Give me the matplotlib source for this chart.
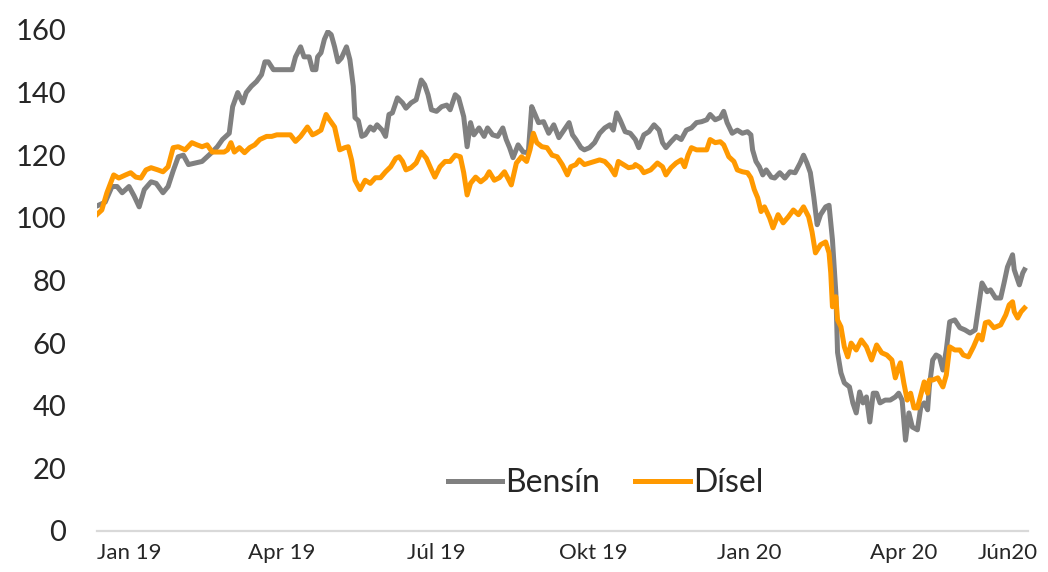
import matplotlib
matplotlib.use("Agg")
import matplotlib.pyplot as plt
import pandas as pd

# Days since 2019-01-01 and index values
bensin_days = [-18, -14, -10, -7, -4, 0, 3, 6, 9, 13, 16, 20, 23, 26, 29, 32, 35, 39, 43, 46, 49, 52, 55, 58,
               59, 61, 64, 67, 69, 72, 75, 78, 80, 82, 85, 89, 93, 96, 98, 101, 103, 106, 108, 110, 111, 113,
               115, 117, 119, 121, 123, 125, 128, 130, 132, 133, 135, 137, 139, 142, 144, 146, 149, 151, 153,
               155, 158, 161, 163, 166, 169, 172, 174, 176, 178, 181, 184, 187, 189, 192, 194, 197, 199, 201,
               203, 206, 209, 211, 214, 217, 220, 222, 224, 226, 229, 232, 235, 237, 239, 241, 244, 247, 250,
               253, 256, 259, 261, 263, 266, 268, 271, 274, 277, 280, 283, 285, 287, 289, 292, 295, 298, 300,
               303, 306, 309, 312, 314, 316, 319, 322, 325, 328, 331, 334, 337, 340, 342, 345, 348, 350, 352,
               355, 358, 361, 364, 366, 367, 369, 371, 373, 375, 378, 380, 383, 386, 389, 392, 395, 397, 399,
               401, 403, 405, 407, 410, 412, 414, 416, 417, 419, 421, 424, 426, 428, 430, 432, 434, 436, 438,
               440, 442, 445, 448, 451, 453, 455, 457, 459, 461, 464, 466, 468, 470, 471, 473, 475, 477, 479,
               481, 483, 486, 489, 492, 495, 498, 500, 502, 505, 507, 510, 513, 515, 517, 520, 521, 524, 526, 527]
bensin = [104, 105, 110, 110, 108, 110, 107, 103.5, 109, 111.5, 111, 108, 110, 115, 119.5, 120, 117, 117.5,
          118, 119.5, 121, 122.7, 125, 126.5,
          127, 135.5, 140, 136.7, 140, 142, 143.5, 145.7, 149.8, 149.8, 147.3, 147.3, 147.3, 147.3, 151.4,
          154.6, 151.4, 151.4, 147.3, 147.3, 151.4, 152.7, 157, 159.4, 158.5, 154.6, 149.8, 151, 154.6,
          150.5, 142, 132, 131, 126, 126.5,
          129, 128, 129.7, 128, 126, 133, 133.5, 138.3, 136.7, 135, 136.7, 137.7, 144, 142.5, 139.3, 134.5,
          134, 135.5, 136, 134.5, 139.3, 138.3, 132.3, 122.7, 130.4, 126.5, 128.7, 126, 128.7, 126.5, 126,
          128.7, 125, 122.4, 119.2, 123.3, 121, 120.8, 135.5, 133, 130.4, 130.7, 127, 129.7, 125.6, 128,
          130.4, 126.5, 125, 122.4, 121.7, 122.4, 124, 127, 128.7, 129.7, 128, 133.5, 131.3, 127.5, 127, 125,
          122.4, 126.5, 127.5, 129.7, 128, 124, 122.4, 124.3, 126, 125, 128, 128.7, 130.4, 130.7, 131.3, 133,
          131.3, 132, 134, 130.4, 127, 128, 127, 127.5, 126.5, 121.7, 118, 116.3, 113.7, 115.3, 113,
          112.7, 114.4, 112.7, 114.7, 114.4, 117.5, 120, 117.5, 114.4, 106.7, 97.8, 101, 103.5, 104, 93, 76,
          57, 50.5, 47.3, 46, 40.9, 37.7, 44.4, 40.9, 42.8, 34.8, 44, 44, 40.9, 41.8, 41.8, 42.8, 44, 41.8,
          29, 37.7, 33.2, 32.3, 39.6, 40.9, 38.7, 46, 54.6, 56.2, 55.6, 51.4, 57.8, 66.8, 67.4, 64.9, 64.2,
          63.2, 64.2, 71.6, 79.2, 76.4, 77, 74.4, 74.4, 79.2, 84.3, 88.2, 83.4, 78.6, 82.4, 83.4]

disel_days = [-19, -16, -13, -9, -6, -2, 1, 4, 7, 10, 13, 17, 20, 23, 26, 29, 33, 37, 40, 43, 46, 49, 53, 56,
              58, 60, 62, 65, 68, 71, 74, 77, 81, 84, 87, 91, 95, 98, 101, 105, 108, 110, 113, 116, 118, 121,
              124, 127, 129, 131, 133, 136, 139, 142, 145, 148, 151, 154, 157, 159, 161, 163, 166, 169, 172,
              175, 178, 180, 183, 186, 189, 192, 195, 197, 199, 201, 204, 207, 210, 212, 215, 218, 221, 225,
              228, 231, 234, 236, 238, 240, 243, 246, 249, 252, 255, 258, 260, 263, 265, 268, 271, 274, 277,
              280, 283, 286, 288, 291, 294, 297, 298, 301, 303, 307, 311, 314, 316, 319, 322, 325, 327, 329,
              331, 334, 337, 340, 342, 345, 348, 350, 353, 356, 358, 361, 364, 366, 368, 370, 372, 374, 377,
              379, 382, 385, 388, 391, 394, 397, 400, 402, 404, 407, 410, 412, 413, 414, 416, 417, 419, 421,
              423, 425, 428, 431, 434, 437, 440, 443, 446, 449, 451, 453, 454, 456, 458, 460, 462, 464, 466,
              468, 470, 471, 473, 476, 479, 481, 483, 486, 489, 491, 494, 497, 500, 502, 504, 506, 509, 513,
              516, 518, 520, 521, 523, 525, 527]
disel = [101, 102.5, 108, 113.7, 112.7, 113.7, 114.4, 113, 112.7, 115.3, 116, 115.3, 114.7, 116.3, 122.4,
         122.7, 121.7, 124, 123.3, 122.7, 123.3, 121, 121, 121,
         121.7, 124, 121, 122.4, 120.8, 122.4, 123.3, 125, 126, 126, 126.5, 126.5, 126.5, 124.4, 126, 129,
         126.5, 127, 128, 133, 131.3, 129, 121.7, 122.4, 122.7, 118.5, 112, 109, 112,
         111, 112.8, 112.8, 114.7, 116.3, 119, 119.5, 118, 115.3, 116, 117.5, 121, 119, 115.3, 113, 116.3,
         118, 118, 120, 119.5, 114.4, 107.3, 111, 113, 111.5, 112.8, 114.7, 112, 112.8,
         114.7, 110.5, 117.5, 119.5, 118, 121.7, 127, 124, 122.7, 122.4, 120, 119.5, 117, 113.7, 116.3, 117,
         118.5, 117, 117.5, 118, 118.5, 118, 116.3, 113.7, 118, 117, 116, 116.3,
         117, 116, 114.4, 115.3, 117.5, 116.3, 113.7, 116, 117.5, 118.5, 116.3, 120, 122.4, 121.7, 121.7,
         121.7, 125, 124, 124.3, 123.3, 119.5, 118, 115.3, 114.7, 114.4, 112.8, 109, 106.4, 102, 103.5, 100,
         96.8, 101, 98.4, 100.3, 102.5, 101, 103.5, 100.3, 95.5, 88.8, 91.4, 92.3, 88.8, 82.4, 71.6, 74.8,
         67.4, 65.2, 58.8, 55.6, 60, 57.8, 61, 58.8, 54.6, 59.4, 56.9, 56.2, 54.6, 48.9, 52.4,
         53.7, 47.3, 41.8, 44, 39.3, 39.3, 43.5, 47.6, 44, 48.2, 48.2, 48.9, 46, 49.8, 58.8, 57.8, 57.8, 56.2,
         55.6, 58.8, 62.6, 61, 66.5, 66.8, 64.9, 65.8, 69, 72.2, 73.2, 70, 68, 70, 71.2]

tick_dates = ["2019-01-01", "2019-04-01", "2019-07-01", "2019-10-01", "2020-01-01", "2020-04-01", "2020-06-01"]
tick_labels = ["Jan 19", "Apr 19", "Júl 19", "Okt 19", "Jan 20", "Apr 20", "Jún20"]
y_ticks = [0, 20, 40, 60, 80, 100, 120, 140, 160]

base = pd.Timestamp("2019-01-01")
tick_pos = [(pd.Timestamp(d) - base).days for d in tick_dates]

plt.rcParams["font.family"] = ["Lato", "DejaVu Sans"]

fig = plt.figure(figsize=(10.48, 5.72), dpi=100)
ax = fig.add_axes([0.0926, 0.0717, 0.8885, 0.876])

ax.plot(bensin_days, bensin, color="#808080", lw=3.6, label="Bensín", solid_joinstyle="round")
ax.plot(disel_days, disel, color="#FF9900", lw=3.6, label="Dísel", solid_joinstyle="round")

ax.set_xlim(-18.8, 529.2)
ax.set_ylim(0, 160)
ax.set_yticks(y_ticks)
ax.set_yticklabels([str(v) for v in y_ticks], fontsize=21, fontweight="normal", color="#262626")
ax.set_xticks(tick_pos)
ax.set_xticklabels(tick_labels, fontsize=16, fontweight="normal", color="#262626")
ax.tick_params(axis="both", length=0)
ax.tick_params(axis="y", pad=22)
ax.tick_params(axis="x", pad=9)

for s in ["top", "right", "left"]:
    ax.spines[s].set_visible(False)
ax.spines["bottom"].set_color("#d9d9d9")
ax.spines["bottom"].set_linewidth(1.6)

leg = ax.legend(loc="center", bbox_to_anchor=(0.546, 0.096), ncol=2, frameon=False,
                prop={"size": 23, "weight": "normal"}, handlelength=1.7, handletextpad=0.1,
                columnspacing=1.1)
for t in leg.get_texts():
    t.set_color("#262626")

fig.savefig("out.png", dpi=100, facecolor="white")
